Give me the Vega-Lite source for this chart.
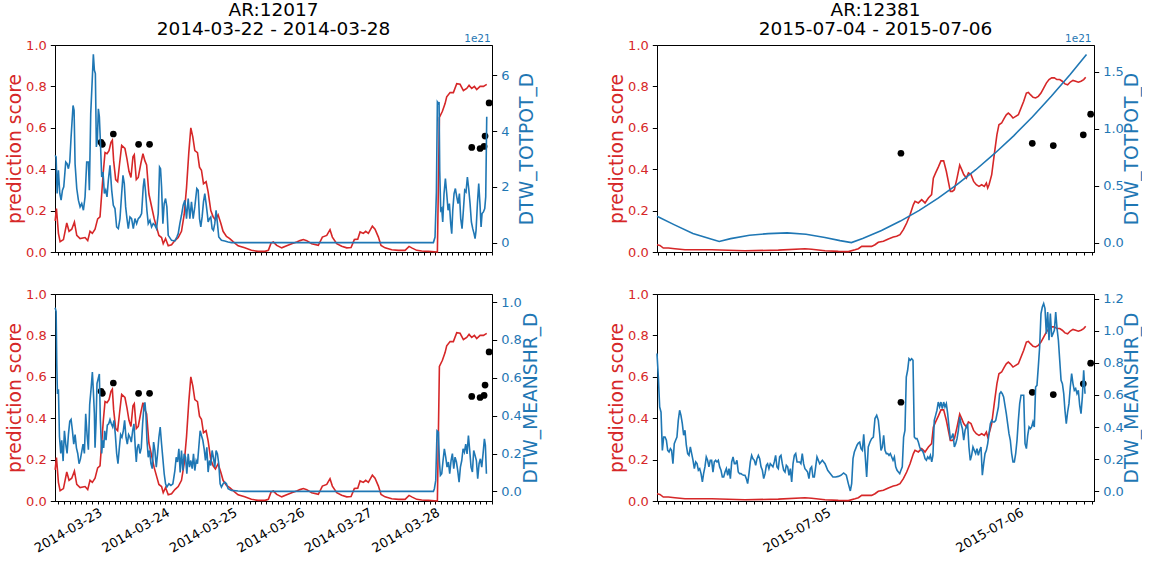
{
"$schema": "https://vega.github.io/schema/vega-lite/v6.json",
"padding": {"left": 5, "top": 0, "right": 0, "bottom": 0},
"config": {
 "font": "DejaVu Sans",
 "view": {"stroke": "black", "strokeWidth": 1},
 "axis": {"grid": false, "domainColor": "black", "tickColor": "black", "labelFont": "DejaVu Sans", "titleFont": "DejaVu Sans", "labelFontSize": 13, "titleFontSize": 18.7, "titleFontWeight": "normal", "domainWidth": 1, "tickWidth": 1},
 "title": {"font": "DejaVu Sans", "fontSize": 18.5, "fontWeight": "normal", "color": "black", "anchor": "middle", "offset": -4, "lineHeight": 19}
},
"datasets": {
 "predL": [
{"t":"2014-03-22T08:52Z","s":0.15},{"t":"2014-03-22T09:20Z","s":0.21},{"t":"2014-03-22T10:02Z","s":0.09},{"t":"2014-03-22T10:38Z","s":0.05},{"t":"2014-03-22T11:49Z","s":0.06},{"t":"2014-03-22T13:00Z","s":0.14},{"t":"2014-03-22T13:49Z","s":0.10},{"t":"2014-03-22T14:46Z","s":0.11},{"t":"2014-03-22T15:43Z","s":0.145},{"t":"2014-03-22T16:33Z","s":0.08},{"t":"2014-03-22T17:44Z","s":0.065},{"t":"2014-03-22T19:30Z","s":0.07},{"t":"2014-03-22T20:27Z","s":0.055},{"t":"2014-03-22T21:16Z","s":0.10},{"t":"2014-03-22T22:06Z","s":0.09},{"t":"2014-03-22T23:03Z","s":0.11},{"t":"2014-03-22T23:59Z","s":0.16},
{"t":"2014-03-23T00:49Z","s":0.17},{"t":"2014-03-23T01:25Z","s":0.28},{"t":"2014-03-23T02:00Z","s":0.39},{"t":"2014-03-23T02:36Z","s":0.48},{"t":"2014-03-23T03:18Z","s":0.475},{"t":"2014-03-23T04:01Z","s":0.49},{"t":"2014-03-23T04:43Z","s":0.53},{"t":"2014-03-23T05:12Z","s":0.54},{"t":"2014-03-23T05:40Z","s":0.44},{"t":"2014-03-23T06:23Z","s":0.35},{"t":"2014-03-23T07:05Z","s":0.34},{"t":"2014-03-23T07:48Z","s":0.43},{"t":"2014-03-23T08:31Z","s":0.515},{"t":"2014-03-23T09:41Z","s":0.50},{"t":"2014-03-23T10:24Z","s":0.45},{"t":"2014-03-23T11:07Z","s":0.39},{"t":"2014-03-23T11:49Z","s":0.36},{"t":"2014-03-23T12:32Z","s":0.46},{"t":"2014-03-23T13:00Z","s":0.47},{"t":"2014-03-23T13:43Z","s":0.35},{"t":"2014-03-23T14:25Z","s":0.36},{"t":"2014-03-23T15:22Z","s":0.43},{"t":"2014-03-23T16:05Z","s":0.475},{"t":"2014-03-23T16:47Z","s":0.44},{"t":"2014-03-23T17:23Z","s":0.42},{"t":"2014-03-23T18:12Z","s":0.28},{"t":"2014-03-23T19:09Z","s":0.22},{"t":"2014-03-23T20:06Z","s":0.16},{"t":"2014-03-23T20:55Z","s":0.12},{"t":"2014-03-23T21:45Z","s":0.08},{"t":"2014-03-23T22:42Z","s":0.07},{"t":"2014-03-23T23:17Z","s":0.04},
{"t":"2014-03-24T00:07Z","s":0.065},{"t":"2014-03-24T01:04Z","s":0.03},{"t":"2014-03-24T02:15Z","s":0.035},{"t":"2014-03-24T03:26Z","s":0.055},{"t":"2014-03-24T04:37Z","s":0.07},{"t":"2014-03-24T05:47Z","s":0.10},{"t":"2014-03-24T06:44Z","s":0.18},{"t":"2014-03-24T07:34Z","s":0.31},{"t":"2014-03-24T08:23Z","s":0.48},{"t":"2014-03-24T09:06Z","s":0.60},{"t":"2014-03-24T09:49Z","s":0.555},{"t":"2014-03-24T10:31Z","s":0.49},{"t":"2014-03-24T11:28Z","s":0.48},{"t":"2014-03-24T12:11Z","s":0.41},{"t":"2014-03-24T12:53Z","s":0.395},{"t":"2014-03-24T13:36Z","s":0.33},{"t":"2014-03-24T14:32Z","s":0.34},{"t":"2014-03-24T15:15Z","s":0.29},{"t":"2014-03-24T16:12Z","s":0.20},{"t":"2014-03-24T17:02Z","s":0.17},{"t":"2014-03-24T17:51Z","s":0.155},{"t":"2014-03-24T18:48Z","s":0.18},{"t":"2014-03-24T19:44Z","s":0.14},{"t":"2014-03-24T20:34Z","s":0.10},{"t":"2014-03-24T21:46Z","s":0.075},{"t":"2014-03-24T22:56Z","s":0.065},
{"t":"2014-03-25T00:07Z","s":0.05},{"t":"2014-03-25T01:54Z","s":0.03},{"t":"2014-03-25T04:16Z","s":0.02},{"t":"2014-03-25T06:38Z","s":0.008},{"t":"2014-03-25T08:59Z","s":0.003},{"t":"2014-03-25T11:29Z","s":0.003},{"t":"2014-03-25T12:40Z","s":0.008},{"t":"2014-03-25T13:37Z","s":0.043},{"t":"2014-03-25T14:26Z","s":0.048},{"t":"2014-03-25T15:38Z","s":0.032},{"t":"2014-03-25T17:25Z","s":0.02},{"t":"2014-03-25T19:11Z","s":0.03},{"t":"2014-03-25T20:58Z","s":0.04},{"t":"2014-03-25T22:44Z","s":0.048},{"t":"2014-03-25T23:55Z","s":0.055},
{"t":"2014-03-26T01:07Z","s":0.06},{"t":"2014-03-26T02:18Z","s":0.055},{"t":"2014-03-26T04:04Z","s":0.04},{"t":"2014-03-26T06:26Z","s":0.032},{"t":"2014-03-26T07:52Z","s":0.072},{"t":"2014-03-26T09:25Z","s":0.08},{"t":"2014-03-26T10:35Z","s":0.108},{"t":"2014-03-26T11:25Z","s":0.072},{"t":"2014-03-26T12:58Z","s":0.04},{"t":"2014-03-26T14:44Z","s":0.028},{"t":"2014-03-26T16:31Z","s":0.02},{"t":"2014-03-26T18:04Z","s":0.022},{"t":"2014-03-26T19:14Z","s":0.06},{"t":"2014-03-26T20:26Z","s":0.062},{"t":"2014-03-26T21:16Z","s":0.097},{"t":"2014-03-26T22:26Z","s":0.09},{"t":"2014-03-26T23:16Z","s":0.10},
{"t":"2014-03-27T00:13Z","s":0.09},{"t":"2014-03-27T01:38Z","s":0.125},{"t":"2014-03-27T02:35Z","s":0.11},{"t":"2014-03-27T03:47Z","s":0.072},{"t":"2014-03-27T04:43Z","s":0.032},{"t":"2014-03-27T06:09Z","s":0.02},{"t":"2014-03-27T08:31Z","s":0.011},{"t":"2014-03-27T10:53Z","s":0.008},{"t":"2014-03-27T13:16Z","s":0.008},{"t":"2014-03-27T14:41Z","s":0.027},{"t":"2014-03-27T15:38Z","s":0.02},{"t":"2014-03-27T17:25Z","s":0.008},{"t":"2014-03-27T19:11Z","s":0.005},{"t":"2014-03-27T21:33Z","s":0.003},
{"t":"2014-03-28T00:45Z","s":0.0},{"t":"2014-03-28T01:28Z","s":0.65},{"t":"2014-03-28T02:32Z","s":0.68},{"t":"2014-03-28T03:29Z","s":0.717},{"t":"2014-03-28T04:04Z","s":0.75},{"t":"2014-03-28T05:16Z","s":0.77},{"t":"2014-03-28T06:26Z","s":0.77},{"t":"2014-03-28T07:38Z","s":0.813},{"t":"2014-03-28T08:49Z","s":0.81},{"t":"2014-03-28T10:00Z","s":0.78},{"t":"2014-03-28T11:11Z","s":0.79},{"t":"2014-03-28T12:01Z","s":0.805},{"t":"2014-03-28T12:58Z","s":0.79},{"t":"2014-03-28T13:55Z","s":0.80},{"t":"2014-03-28T14:44Z","s":0.785},{"t":"2014-03-28T15:56Z","s":0.80},{"t":"2014-03-28T17:07Z","s":0.80},{"t":"2014-03-28T18:18Z","s":0.81}
 ],
 "ptsL": [
{"t":"2014-03-23T01:11Z","s":0.53},{"t":"2014-03-23T01:39Z","s":0.52},{"t":"2014-03-23T05:33Z","s":0.57},{"t":"2014-03-23T14:32Z","s":0.52},{"t":"2014-03-23T18:26Z","s":0.52},{"t":"2014-03-28T12:58Z","s":0.505},{"t":"2014-03-28T15:56Z","s":0.50},{"t":"2014-03-28T17:21Z","s":0.51},{"t":"2014-03-28T17:42Z","s":0.56},{"t":"2014-03-28T19:08Z","s":0.72}
 ],
 "totpotL": [
{"t":"2014-03-22T08:52Z","v":3.13},{"t":"2014-03-22T09:13Z","v":3.07},{"t":"2014-03-22T09:34Z","v":1.76},{"t":"2014-03-22T10:02Z","v":2.59},{"t":"2014-03-22T10:31Z","v":1.76},{"t":"2014-03-22T10:59Z","v":1.52},{"t":"2014-03-22T11:28Z","v":1.88},{"t":"2014-03-22T11:56Z","v":2.0},{"t":"2014-03-22T12:38Z","v":2.89},{"t":"2014-03-22T13:07Z","v":2.83},{"t":"2014-03-22T13:35Z","v":2.65},{"t":"2014-03-22T14:04Z","v":2.89},{"t":"2014-03-22T14:32Z","v":3.79},{"t":"2014-03-22T15:14Z","v":4.92},{"t":"2014-03-22T15:36Z","v":4.74},{"t":"2014-03-22T15:57Z","v":2.83},{"t":"2014-03-22T16:33Z","v":1.94},{"t":"2014-03-22T17:08Z","v":1.52},{"t":"2014-03-22T17:44Z","v":1.28},{"t":"2014-03-22T18:19Z","v":1.40},{"t":"2014-03-22T18:55Z","v":1.16},{"t":"2014-03-22T19:30Z","v":1.64},{"t":"2014-03-22T20:05Z","v":2.89},{"t":"2014-03-22T20:41Z","v":2.89},{"t":"2014-03-22T21:02Z","v":1.88},{"t":"2014-03-22T21:31Z","v":4.62},{"t":"2014-03-22T22:06Z","v":5.94},{"t":"2014-03-22T22:27Z","v":6.75},{"t":"2014-03-22T22:49Z","v":6.18},{"t":"2014-03-22T23:10Z","v":6.06},{"t":"2014-03-22T23:31Z","v":3.43},{"t":"2014-03-22T23:52Z","v":3.67},
{"t":"2014-03-23T00:14Z","v":4.80},{"t":"2014-03-23T00:35Z","v":4.51},{"t":"2014-03-23T00:56Z","v":3.67},{"t":"2014-03-23T01:25Z","v":2.35},{"t":"2014-03-23T01:53Z","v":2.53},{"t":"2014-03-23T02:22Z","v":1.76},{"t":"2014-03-23T02:50Z","v":1.88},{"t":"2014-03-23T03:18Z","v":1.64},{"t":"2014-03-23T03:47Z","v":2.24},{"t":"2014-03-23T04:22Z","v":2.77},{"t":"2014-03-23T04:58Z","v":1.88},{"t":"2014-03-23T05:33Z","v":1.34},{"t":"2014-03-23T06:08Z","v":1.22},{"t":"2014-03-23T06:44Z","v":0.56},{"t":"2014-03-23T07:20Z","v":0.50},{"t":"2014-03-23T07:55Z","v":0.86},{"t":"2014-03-23T08:31Z","v":1.76},{"t":"2014-03-23T08:59Z","v":2.41},{"t":"2014-03-23T09:27Z","v":2.12},{"t":"2014-03-23T09:56Z","v":1.28},{"t":"2014-03-23T10:24Z","v":0.86},{"t":"2014-03-23T10:52Z","v":0.50},{"t":"2014-03-23T11:28Z","v":0.92},{"t":"2014-03-23T12:03Z","v":0.86},{"t":"2014-03-23T12:39Z","v":0.50},{"t":"2014-03-23T13:14Z","v":0.86},{"t":"2014-03-23T13:50Z","v":0.68},{"t":"2014-03-23T14:25Z","v":0.86},{"t":"2014-03-23T15:01Z","v":0.92},{"t":"2014-03-23T15:36Z","v":1.04},{"t":"2014-03-23T16:11Z","v":2.0},{"t":"2014-03-23T16:33Z","v":2.3},{"t":"2014-03-23T17:01Z","v":1.82},{"t":"2014-03-23T17:29Z","v":1.16},{"t":"2014-03-23T17:58Z","v":0.68},{"t":"2014-03-23T18:34Z","v":0.80},{"t":"2014-03-23T19:09Z","v":0.56},{"t":"2014-03-23T19:44Z","v":0.68},{"t":"2014-03-23T20:20Z","v":0.62},{"t":"2014-03-23T20:55Z","v":0.50},{"t":"2014-03-23T21:31Z","v":1.04},{"t":"2014-03-23T21:59Z","v":2.71},{"t":"2014-03-23T22:20Z","v":2.65},{"t":"2014-03-23T22:42Z","v":2.0},{"t":"2014-03-23T23:10Z","v":0.68},{"t":"2014-03-23T23:38Z","v":1.40},
{"t":"2014-03-24T00:07Z","v":1.58},{"t":"2014-03-24T00:35Z","v":1.28},{"t":"2014-03-24T01:04Z","v":0.26},{"t":"2014-03-24T02:15Z","v":0.08},{"t":"2014-03-24T03:26Z","v":0.06},{"t":"2014-03-24T04:08Z","v":0.20},{"t":"2014-03-24T04:37Z","v":0.32},{"t":"2014-03-24T05:12Z","v":0.68},{"t":"2014-03-24T05:47Z","v":0.98},{"t":"2014-03-24T06:23Z","v":1.34},{"t":"2014-03-24T06:59Z","v":1.52},{"t":"2014-03-24T07:34Z","v":0.86},{"t":"2014-03-24T08:10Z","v":1.58},{"t":"2014-03-24T08:45Z","v":0.86},{"t":"2014-03-24T09:20Z","v":1.46},{"t":"2014-03-24T09:56Z","v":0.86},{"t":"2014-03-24T10:31Z","v":1.28},{"t":"2014-03-24T11:14Z","v":1.94},{"t":"2014-03-24T11:43Z","v":1.88},{"t":"2014-03-24T12:11Z","v":0.86},{"t":"2014-03-24T12:39Z","v":0.56},{"t":"2014-03-24T13:07Z","v":0.92},{"t":"2014-03-24T13:36Z","v":1.46},{"t":"2014-03-24T14:04Z","v":1.76},{"t":"2014-03-24T14:32Z","v":1.40},{"t":"2014-03-24T15:01Z","v":0.98},{"t":"2014-03-24T15:15Z","v":0.74},{"t":"2014-03-24T15:44Z","v":0.86},{"t":"2014-03-24T16:12Z","v":0.92},{"t":"2014-03-24T16:40Z","v":0.50},{"t":"2014-03-24T17:08Z","v":0.44},{"t":"2014-03-24T17:37Z","v":0.68},{"t":"2014-03-24T18:05Z","v":1.16},{"t":"2014-03-24T18:34Z","v":0.68},{"t":"2014-03-24T19:02Z","v":0.20},{"t":"2014-03-24T19:59Z","v":0.08},{"t":"2014-03-24T21:10Z","v":0.06},{"t":"2014-03-24T22:21Z","v":0.02},{"t":"2014-03-24T23:32Z","v":0.0},
{"t":"2014-03-27T23:20Z","v":0.0},{"t":"2014-03-27T23:55Z","v":0.20},{"t":"2014-03-28T00:24Z","v":1.80},{"t":"2014-03-28T00:45Z","v":5.04},{"t":"2014-03-28T01:07Z","v":4.98},{"t":"2014-03-28T01:21Z","v":5.04},{"t":"2014-03-28T01:35Z","v":2.59},{"t":"2014-03-28T01:56Z","v":1.16},{"t":"2014-03-28T02:18Z","v":1.22},{"t":"2014-03-28T02:39Z","v":0.74},{"t":"2014-03-28T03:07Z","v":1.76},{"t":"2014-03-28T03:36Z","v":2.3},{"t":"2014-03-28T04:04Z","v":1.76},{"t":"2014-03-28T04:33Z","v":1.16},{"t":"2014-03-28T05:01Z","v":1.40},{"t":"2014-03-28T05:29Z","v":0.68},{"t":"2014-03-28T05:51Z","v":0.32},{"t":"2014-03-28T06:13Z","v":1.16},{"t":"2014-03-28T06:41Z","v":1.76},{"t":"2014-03-28T07:09Z","v":1.94},{"t":"2014-03-28T07:38Z","v":1.64},{"t":"2014-03-28T08:06Z","v":1.40},{"t":"2014-03-28T08:35Z","v":1.76},{"t":"2014-03-28T09:03Z","v":0.86},{"t":"2014-03-28T09:31Z","v":0.50},{"t":"2014-03-28T10:00Z","v":1.16},{"t":"2014-03-28T10:28Z","v":1.88},{"t":"2014-03-28T10:56Z","v":1.82},{"t":"2014-03-28T11:25Z","v":2.35},{"t":"2014-03-28T11:53Z","v":1.94},{"t":"2014-03-28T12:22Z","v":1.40},{"t":"2014-03-28T12:50Z","v":0.74},{"t":"2014-03-28T13:19Z","v":0.50},{"t":"2014-03-28T13:47Z","v":0.32},{"t":"2014-03-28T14:09Z","v":0.14},{"t":"2014-03-28T14:30Z","v":0.44},{"t":"2014-03-28T14:59Z","v":1.40},{"t":"2014-03-28T15:27Z","v":2.12},{"t":"2014-03-28T15:55Z","v":1.34},{"t":"2014-03-28T16:17Z","v":0.56},{"t":"2014-03-28T16:38Z","v":1.04},{"t":"2014-03-28T17:07Z","v":1.10},{"t":"2014-03-28T17:35Z","v":1.22},{"t":"2014-03-28T17:56Z","v":1.64},{"t":"2014-03-28T18:18Z","v":4.51}
 ],
 "meanshrL": [
{"t":"2014-03-22T08:52Z","v":0.97},{"t":"2014-03-22T09:13Z","v":0.95},{"t":"2014-03-22T09:27Z","v":0.67},{"t":"2014-03-22T09:41Z","v":0.515},{"t":"2014-03-22T10:02Z","v":0.54},{"t":"2014-03-22T10:24Z","v":0.29},{"t":"2014-03-22T10:52Z","v":0.20},{"t":"2014-03-22T11:13Z","v":0.27},{"t":"2014-03-22T11:42Z","v":0.16},{"t":"2014-03-22T12:10Z","v":0.32},{"t":"2014-03-22T12:38Z","v":0.25},{"t":"2014-03-22T13:07Z","v":0.20},{"t":"2014-03-22T13:35Z","v":0.30},{"t":"2014-03-22T14:04Z","v":0.37},{"t":"2014-03-22T14:32Z","v":0.38},{"t":"2014-03-22T15:01Z","v":0.32},{"t":"2014-03-22T15:29Z","v":0.25},{"t":"2014-03-22T15:57Z","v":0.30},{"t":"2014-03-22T16:26Z","v":0.23},{"t":"2014-03-22T16:54Z","v":0.20},{"t":"2014-03-22T17:22Z","v":0.146},{"t":"2014-03-22T17:51Z","v":0.17},{"t":"2014-03-22T18:19Z","v":0.21},{"t":"2014-03-22T18:47Z","v":0.25},{"t":"2014-03-22T19:16Z","v":0.20},{"t":"2014-03-22T19:44Z","v":0.41},{"t":"2014-03-22T20:13Z","v":0.30},{"t":"2014-03-22T20:41Z","v":0.22},{"t":"2014-03-22T21:09Z","v":0.46},{"t":"2014-03-22T21:38Z","v":0.54},{"t":"2014-03-22T22:06Z","v":0.63},{"t":"2014-03-22T22:27Z","v":0.53},{"t":"2014-03-22T22:49Z","v":0.41},{"t":"2014-03-22T23:03Z","v":0.23},{"t":"2014-03-22T23:24Z","v":0.36},{"t":"2014-03-22T23:45Z","v":0.57},
{"t":"2014-03-23T00:14Z","v":0.60},{"t":"2014-03-23T00:35Z","v":0.62},{"t":"2014-03-23T00:56Z","v":0.38},{"t":"2014-03-23T01:25Z","v":0.20},{"t":"2014-03-23T01:46Z","v":0.27},{"t":"2014-03-23T02:07Z","v":0.23},{"t":"2014-03-23T02:29Z","v":0.32},{"t":"2014-03-23T02:57Z","v":0.27},{"t":"2014-03-23T03:25Z","v":0.35},{"t":"2014-03-23T03:54Z","v":0.357},{"t":"2014-03-23T04:22Z","v":0.38},{"t":"2014-03-23T04:50Z","v":0.357},{"t":"2014-03-23T05:19Z","v":0.34},{"t":"2014-03-23T05:47Z","v":0.375},{"t":"2014-03-23T06:16Z","v":0.30},{"t":"2014-03-23T06:44Z","v":0.20},{"t":"2014-03-23T07:12Z","v":0.146},{"t":"2014-03-23T07:41Z","v":0.23},{"t":"2014-03-23T08:09Z","v":0.30},{"t":"2014-03-23T08:37Z","v":0.286},{"t":"2014-03-23T09:06Z","v":0.32},{"t":"2014-03-23T09:34Z","v":0.375},{"t":"2014-03-23T10:03Z","v":0.286},{"t":"2014-03-23T10:31Z","v":0.25},{"t":"2014-03-23T10:59Z","v":0.30},{"t":"2014-03-23T11:28Z","v":0.286},{"t":"2014-03-23T11:56Z","v":0.26},{"t":"2014-03-23T12:25Z","v":0.32},{"t":"2014-03-23T12:53Z","v":0.357},{"t":"2014-03-23T13:21Z","v":0.23},{"t":"2014-03-23T13:43Z","v":0.155},{"t":"2014-03-23T14:04Z","v":0.23},{"t":"2014-03-23T14:32Z","v":0.25},{"t":"2014-03-23T15:01Z","v":0.20},{"t":"2014-03-23T15:29Z","v":0.23},{"t":"2014-03-23T15:58Z","v":0.357},{"t":"2014-03-23T16:26Z","v":0.45},{"t":"2014-03-23T16:47Z","v":0.47},{"t":"2014-03-23T17:08Z","v":0.41},{"t":"2014-03-23T17:30Z","v":0.27},{"t":"2014-03-23T17:58Z","v":0.18},{"t":"2014-03-23T18:26Z","v":0.216},{"t":"2014-03-23T18:55Z","v":0.146},{"t":"2014-03-23T19:23Z","v":0.12},{"t":"2014-03-23T19:52Z","v":0.26},{"t":"2014-03-23T20:20Z","v":0.216},{"t":"2014-03-23T20:49Z","v":0.128},{"t":"2014-03-23T21:17Z","v":0.20},{"t":"2014-03-23T21:45Z","v":0.286},{"t":"2014-03-23T22:13Z","v":0.34},{"t":"2014-03-23T22:42Z","v":0.25},{"t":"2014-03-23T23:10Z","v":0.172},{"t":"2014-03-23T23:38Z","v":0.093},
{"t":"2014-03-24T00:07Z","v":0.04},{"t":"2014-03-24T00:35Z","v":0.023},{"t":"2014-03-24T01:18Z","v":0.04},{"t":"2014-03-24T02:01Z","v":0.031},{"t":"2014-03-24T02:43Z","v":0.04},{"t":"2014-03-24T03:26Z","v":0.11},{"t":"2014-03-24T03:54Z","v":0.18},{"t":"2014-03-24T04:22Z","v":0.155},{"t":"2014-03-24T04:51Z","v":0.225},{"t":"2014-03-24T05:19Z","v":0.10},{"t":"2014-03-24T05:47Z","v":0.216},{"t":"2014-03-24T06:16Z","v":0.11},{"t":"2014-03-24T06:44Z","v":0.198},{"t":"2014-03-24T07:13Z","v":0.18},{"t":"2014-03-24T07:41Z","v":0.093},{"t":"2014-03-24T08:10Z","v":0.198},{"t":"2014-03-24T08:38Z","v":0.128},{"t":"2014-03-24T09:06Z","v":0.163},{"t":"2014-03-24T09:35Z","v":0.12},{"t":"2014-03-24T10:03Z","v":0.198},{"t":"2014-03-24T10:31Z","v":0.11},{"t":"2014-03-24T11:00Z","v":0.163},{"t":"2014-03-24T11:28Z","v":0.146},{"t":"2014-03-24T11:56Z","v":0.233},{"t":"2014-03-24T12:25Z","v":0.32},{"t":"2014-03-24T12:53Z","v":0.295},{"t":"2014-03-24T13:22Z","v":0.27},{"t":"2014-03-24T13:50Z","v":0.225},{"t":"2014-03-24T14:18Z","v":0.163},{"t":"2014-03-24T14:47Z","v":0.233},{"t":"2014-03-24T15:15Z","v":0.102},{"t":"2014-03-24T15:44Z","v":0.163},{"t":"2014-03-24T16:12Z","v":0.137},{"t":"2014-03-24T16:40Z","v":0.216},{"t":"2014-03-24T17:08Z","v":0.18},{"t":"2014-03-24T17:37Z","v":0.128},{"t":"2014-03-24T18:05Z","v":0.216},{"t":"2014-03-24T18:34Z","v":0.198},{"t":"2014-03-24T19:02Z","v":0.146},{"t":"2014-03-24T19:31Z","v":0.04},{"t":"2014-03-24T19:59Z","v":0.023},{"t":"2014-03-24T20:34Z","v":0.04},{"t":"2014-03-24T21:10Z","v":0.049},{"t":"2014-03-24T21:46Z","v":0.04},{"t":"2014-03-24T22:21Z","v":0.014},{"t":"2014-03-24T23:32Z","v":0.005},{"t":"2014-03-25T01:54Z","v":0.002},{"t":"2014-03-25T04:16Z","v":0.0},
{"t":"2014-03-27T23:20Z","v":0.0},{"t":"2014-03-27T23:41Z","v":0.014},{"t":"2014-03-28T00:10Z","v":0.058},{"t":"2014-03-28T00:38Z","v":0.32},{"t":"2014-03-28T01:07Z","v":0.313},{"t":"2014-03-28T01:28Z","v":0.16},{"t":"2014-03-28T01:49Z","v":0.084},{"t":"2014-03-28T02:18Z","v":0.093},{"t":"2014-03-28T02:46Z","v":0.163},{"t":"2014-03-28T03:14Z","v":0.225},{"t":"2014-03-28T03:43Z","v":0.181},{"t":"2014-03-28T04:11Z","v":0.128},{"t":"2014-03-28T04:40Z","v":0.155},{"t":"2014-03-28T05:08Z","v":0.093},{"t":"2014-03-28T05:37Z","v":0.163},{"t":"2014-03-28T06:05Z","v":0.199},{"t":"2014-03-28T06:34Z","v":0.12},{"t":"2014-03-28T07:02Z","v":0.181},{"t":"2014-03-28T07:31Z","v":0.155},{"t":"2014-03-28T07:59Z","v":0.11},{"t":"2014-03-28T08:28Z","v":0.049},{"t":"2014-03-28T08:56Z","v":0.128},{"t":"2014-03-28T09:25Z","v":0.163},{"t":"2014-03-28T09:53Z","v":0.225},{"t":"2014-03-28T10:21Z","v":0.207},{"t":"2014-03-28T10:50Z","v":0.25},{"t":"2014-03-28T11:18Z","v":0.198},{"t":"2014-03-28T11:47Z","v":0.295},{"t":"2014-03-28T12:15Z","v":0.216},{"t":"2014-03-28T12:43Z","v":0.128},{"t":"2014-03-28T13:12Z","v":0.102},{"t":"2014-03-28T13:40Z","v":0.216},{"t":"2014-03-28T14:09Z","v":0.19},{"t":"2014-03-28T14:37Z","v":0.163},{"t":"2014-03-28T15:05Z","v":0.067},{"t":"2014-03-28T15:34Z","v":0.146},{"t":"2014-03-28T16:02Z","v":0.172},{"t":"2014-03-28T16:31Z","v":0.128},{"t":"2014-03-28T16:59Z","v":0.198},{"t":"2014-03-28T17:28Z","v":0.278},{"t":"2014-03-28T17:49Z","v":0.243},{"t":"2014-03-28T18:11Z","v":0.093}
 ],
 "predR": [
{"t":"2015-07-04T02:54Z","s":0.035},{"t":"2015-07-04T03:16Z","s":0.032},{"t":"2015-07-04T03:41Z","s":0.019},{"t":"2015-07-04T04:19Z","s":0.019},{"t":"2015-07-04T05:08Z","s":0.016},{"t":"2015-07-04T06:23Z","s":0.011},{"t":"2015-07-04T09:42Z","s":0.011},{"t":"2015-07-04T13:51Z","s":0.006},{"t":"2015-07-04T18:00Z","s":0.009},{"t":"2015-07-04T21:19Z","s":0.016},{"t":"2015-07-04T22:09Z","s":0.013},{"t":"2015-07-04T23:49Z","s":0.006},
{"t":"2015-07-05T01:28Z","s":0.003},{"t":"2015-07-05T02:43Z","s":0.002},{"t":"2015-07-05T03:33Z","s":0.011},{"t":"2015-07-05T03:58Z","s":0.016},{"t":"2015-07-05T04:23Z","s":0.027},{"t":"2015-07-05T05:37Z","s":0.027},{"t":"2015-07-05T06:02Z","s":0.035},{"t":"2015-07-05T06:27Z","s":0.047},{"t":"2015-07-05T07:05Z","s":0.052},{"t":"2015-07-05T07:42Z","s":0.063},{"t":"2015-07-05T08:19Z","s":0.072},{"t":"2015-07-05T08:44Z","s":0.076},{"t":"2015-07-05T09:09Z","s":0.084},{"t":"2015-07-05T09:34Z","s":0.108},{"t":"2015-07-05T09:59Z","s":0.14},{"t":"2015-07-05T10:24Z","s":0.18},{"t":"2015-07-05T10:49Z","s":0.229},{"t":"2015-07-05T11:01Z","s":0.245},{"t":"2015-07-05T11:26Z","s":0.237},{"t":"2015-07-05T11:51Z","s":0.253},{"t":"2015-07-05T12:16Z","s":0.237},{"t":"2015-07-05T12:41Z","s":0.261},{"t":"2015-07-05T13:05Z","s":0.277},{"t":"2015-07-05T13:18Z","s":0.357},{"t":"2015-07-05T13:35Z","s":0.382},{"t":"2015-07-05T13:55Z","s":0.41},{"t":"2015-07-05T14:15Z","s":0.44},{"t":"2015-07-05T14:35Z","s":0.44},{"t":"2015-07-05T14:55Z","s":0.39},{"t":"2015-07-05T15:10Z","s":0.341},{"t":"2015-07-05T15:25Z","s":0.293},{"t":"2015-07-05T15:40Z","s":0.293},{"t":"2015-07-05T15:55Z","s":0.301},{"t":"2015-07-05T16:15Z","s":0.357},{"t":"2015-07-05T16:35Z","s":0.42},{"t":"2015-07-05T16:50Z","s":0.398},{"t":"2015-07-05T17:05Z","s":0.374},{"t":"2015-07-05T17:25Z","s":0.357},{"t":"2015-07-05T17:40Z","s":0.382},{"t":"2015-07-05T17:59Z","s":0.374},{"t":"2015-07-05T18:19Z","s":0.341},{"t":"2015-07-05T18:39Z","s":0.325},{"t":"2015-07-05T18:59Z","s":0.317},{"t":"2015-07-05T19:19Z","s":0.325},{"t":"2015-07-05T19:39Z","s":0.317},{"t":"2015-07-05T19:54Z","s":0.333},{"t":"2015-07-05T20:04Z","s":0.309},{"t":"2015-07-05T20:14Z","s":0.325},{"t":"2015-07-05T20:34Z","s":0.374},{"t":"2015-07-05T20:53Z","s":0.47},{"t":"2015-07-05T21:13Z","s":0.567},{"t":"2015-07-05T21:28Z","s":0.615},{"t":"2015-07-05T21:48Z","s":0.623},{"t":"2015-07-05T22:08Z","s":0.647},{"t":"2015-07-05T22:23Z","s":0.663},{"t":"2015-07-05T22:38Z","s":0.671},{"t":"2015-07-05T22:53Z","s":0.663},{"t":"2015-07-05T23:13Z","s":0.647},{"t":"2015-07-05T23:33Z","s":0.655},{"t":"2015-07-05T23:53Z","s":0.663},
{"t":"2015-07-06T00:13Z","s":0.696},{"t":"2015-07-06T00:33Z","s":0.728},{"t":"2015-07-06T00:53Z","s":0.768},{"t":"2015-07-06T01:08Z","s":0.771},{"t":"2015-07-06T01:23Z","s":0.760},{"t":"2015-07-06T01:43Z","s":0.747},{"t":"2015-07-06T02:02Z","s":0.744},{"t":"2015-07-06T02:22Z","s":0.752},{"t":"2015-07-06T02:42Z","s":0.768},{"t":"2015-07-06T03:02Z","s":0.792},{"t":"2015-07-06T03:22Z","s":0.816},{"t":"2015-07-06T03:42Z","s":0.833},{"t":"2015-07-06T04:02Z","s":0.841},{"t":"2015-07-06T04:22Z","s":0.841},{"t":"2015-07-06T04:41Z","s":0.833},{"t":"2015-07-06T05:02Z","s":0.833},{"t":"2015-07-06T05:21Z","s":0.825},{"t":"2015-07-06T05:41Z","s":0.812},{"t":"2015-07-06T06:01Z","s":0.808},{"t":"2015-07-06T06:21Z","s":0.821},{"t":"2015-07-06T06:41Z","s":0.829},{"t":"2015-07-06T07:01Z","s":0.825},{"t":"2015-07-06T07:21Z","s":0.820},{"t":"2015-07-06T07:41Z","s":0.825},{"t":"2015-07-06T08:01Z","s":0.833},{"t":"2015-07-06T08:16Z","s":0.844}
 ],
 "ptsR": [
{"t":"2015-07-05T09:16Z","s":0.477},{"t":"2015-07-06T01:37Z","s":0.525},{"t":"2015-07-06T04:14Z","s":0.514},{"t":"2015-07-06T07:58Z","s":0.566},{"t":"2015-07-06T08:53Z","s":0.666}
 ],
 "totpotR": [
{"t":"2015-07-04T02:54Z","v":0.231},{"t":"2015-07-04T05:01Z","v":0.158},{"t":"2015-07-04T07:22Z","v":0.079},{"t":"2015-07-04T09:43Z","v":0.029},{"t":"2015-07-04T10:39Z","v":0.01},{"t":"2015-07-04T12:04Z","v":0.035},{"t":"2015-07-04T14:25Z","v":0.064},{"t":"2015-07-04T16:45Z","v":0.079},{"t":"2015-07-04T19:06Z","v":0.085},{"t":"2015-07-04T21:27Z","v":0.073},{"t":"2015-07-04T23:48Z","v":0.044},{"t":"2015-07-05T01:41Z","v":0.017},{"t":"2015-07-05T03:06Z","v":0.0},{"t":"2015-07-05T04:30Z","v":0.036},{"t":"2015-07-05T06:51Z","v":0.106},{"t":"2015-07-05T09:12Z","v":0.189},{"t":"2015-07-05T11:33Z","v":0.283},{"t":"2015-07-05T13:54Z","v":0.39},{"t":"2015-07-05T16:14Z","v":0.509},{"t":"2015-07-05T18:35Z","v":0.64},{"t":"2015-07-05T20:56Z","v":0.783},{"t":"2015-07-05T23:18Z","v":0.938},{"t":"2015-07-06T01:39Z","v":1.106},{"t":"2015-07-06T03:59Z","v":1.285},{"t":"2015-07-06T06:20Z","v":1.477},{"t":"2015-07-06T08:22Z","v":1.652}
 ],
 "meanshrR": [
{"t":"2015-07-04T02:54Z","v":0.858},{"t":"2015-07-04T03:04Z","v":0.712},{"t":"2015-07-04T03:14Z","v":0.525},{"t":"2015-07-04T03:24Z","v":0.494},{"t":"2015-07-04T03:34Z","v":0.255},{"t":"2015-07-04T03:44Z","v":0.338},{"t":"2015-07-04T03:54Z","v":0.338},{"t":"2015-07-04T04:04Z","v":0.318},{"t":"2015-07-04T04:14Z","v":0.255},{"t":"2015-07-04T04:24Z","v":0.245},{"t":"2015-07-04T04:34Z","v":0.266},{"t":"2015-07-04T04:43Z","v":0.255},{"t":"2015-07-04T04:53Z","v":0.172},{"t":"2015-07-04T05:03Z","v":0.297},{"t":"2015-07-04T05:13Z","v":0.318},{"t":"2015-07-04T05:23Z","v":0.338},{"t":"2015-07-04T05:33Z","v":0.442},{"t":"2015-07-04T05:43Z","v":0.505},{"t":"2015-07-04T05:53Z","v":0.473},{"t":"2015-07-04T06:03Z","v":0.421},{"t":"2015-07-04T06:13Z","v":0.349},{"t":"2015-07-04T06:23Z","v":0.380},{"t":"2015-07-04T06:33Z","v":0.287},{"t":"2015-07-04T06:43Z","v":0.235},{"t":"2015-07-04T06:53Z","v":0.224},{"t":"2015-07-04T07:03Z","v":0.276},{"t":"2015-07-04T07:13Z","v":0.235},{"t":"2015-07-04T07:23Z","v":0.193},{"t":"2015-07-04T07:33Z","v":0.141},{"t":"2015-07-04T07:43Z","v":0.183},{"t":"2015-07-04T07:53Z","v":0.172},{"t":"2015-07-04T08:03Z","v":0.131},{"t":"2015-07-04T08:13Z","v":0.141},{"t":"2015-07-04T08:23Z","v":0.110},{"t":"2015-07-04T08:33Z","v":0.058},{"t":"2015-07-04T08:42Z","v":0.110},{"t":"2015-07-04T08:52Z","v":0.152},{"t":"2015-07-04T09:02Z","v":0.214},{"t":"2015-07-04T09:12Z","v":0.193},{"t":"2015-07-04T09:22Z","v":0.152},{"t":"2015-07-04T09:32Z","v":0.193},{"t":"2015-07-04T09:42Z","v":0.193},{"t":"2015-07-04T09:52Z","v":0.120},{"t":"2015-07-04T10:02Z","v":0.183},{"t":"2015-07-04T10:12Z","v":0.193},{"t":"2015-07-04T10:22Z","v":0.183},{"t":"2015-07-04T10:32Z","v":0.193},{"t":"2015-07-04T10:42Z","v":0.152},{"t":"2015-07-04T10:52Z","v":0.131},{"t":"2015-07-04T11:02Z","v":0.089},{"t":"2015-07-04T11:12Z","v":0.089},{"t":"2015-07-04T11:22Z","v":0.120},{"t":"2015-07-04T11:32Z","v":0.141},{"t":"2015-07-04T11:42Z","v":0.100},{"t":"2015-07-04T11:52Z","v":0.141},{"t":"2015-07-04T12:02Z","v":0.079},{"t":"2015-07-04T12:12Z","v":0.183},{"t":"2015-07-04T12:22Z","v":0.214},{"t":"2015-07-04T12:32Z","v":0.172},{"t":"2015-07-04T12:41Z","v":0.172},{"t":"2015-07-04T12:51Z","v":0.193},{"t":"2015-07-04T13:01Z","v":0.120},{"t":"2015-07-04T13:11Z","v":0.110},{"t":"2015-07-04T13:21Z","v":0.110},{"t":"2015-07-04T13:31Z","v":0.104},{"t":"2015-07-04T13:41Z","v":0.100},{"t":"2015-07-04T13:51Z","v":0.100},{"t":"2015-07-04T14:01Z","v":0.079},{"t":"2015-07-04T14:11Z","v":0.048},{"t":"2015-07-04T14:21Z","v":0.110},{"t":"2015-07-04T14:31Z","v":0.183},{"t":"2015-07-04T14:41Z","v":0.224},{"t":"2015-07-04T14:51Z","v":0.203},{"t":"2015-07-04T15:01Z","v":0.193},{"t":"2015-07-04T15:11Z","v":0.162},{"t":"2015-07-04T15:21Z","v":0.203},{"t":"2015-07-04T15:31Z","v":0.224},{"t":"2015-07-04T15:41Z","v":0.203},{"t":"2015-07-04T15:51Z","v":0.152},{"t":"2015-07-04T16:01Z","v":0.131},{"t":"2015-07-04T16:11Z","v":0.079},{"t":"2015-07-04T16:21Z","v":0.110},{"t":"2015-07-04T16:31Z","v":0.162},{"t":"2015-07-04T16:40Z","v":0.172},{"t":"2015-07-04T16:50Z","v":0.141},{"t":"2015-07-04T17:00Z","v":0.172},{"t":"2015-07-04T17:10Z","v":0.162},{"t":"2015-07-04T17:20Z","v":0.152},{"t":"2015-07-04T17:30Z","v":0.183},{"t":"2015-07-04T17:40Z","v":0.224},{"t":"2015-07-04T17:50Z","v":0.152},{"t":"2015-07-04T18:00Z","v":0.141},{"t":"2015-07-04T18:10Z","v":0.214},{"t":"2015-07-04T18:20Z","v":0.224},{"t":"2015-07-04T18:30Z","v":0.172},{"t":"2015-07-04T18:40Z","v":0.131},{"t":"2015-07-04T18:50Z","v":0.120},{"t":"2015-07-04T19:00Z","v":0.162},{"t":"2015-07-04T19:10Z","v":0.152},{"t":"2015-07-04T19:20Z","v":0.100},{"t":"2015-07-04T19:30Z","v":0.141},{"t":"2015-07-04T19:40Z","v":0.058},{"t":"2015-07-04T19:50Z","v":0.172},{"t":"2015-07-04T20:00Z","v":0.224},{"t":"2015-07-04T20:10Z","v":0.235},{"t":"2015-07-04T20:20Z","v":0.183},{"t":"2015-07-04T20:30Z","v":0.183},{"t":"2015-07-04T20:40Z","v":0.183},{"t":"2015-07-04T20:49Z","v":0.172},{"t":"2015-07-04T20:59Z","v":0.235},{"t":"2015-07-04T21:09Z","v":0.172},{"t":"2015-07-04T21:19Z","v":0.141},{"t":"2015-07-04T21:29Z","v":0.131},{"t":"2015-07-04T21:39Z","v":0.120},{"t":"2015-07-04T21:49Z","v":0.079},{"t":"2015-07-04T21:59Z","v":0.141},{"t":"2015-07-04T22:09Z","v":0.152},{"t":"2015-07-04T22:19Z","v":0.089},{"t":"2015-07-04T22:29Z","v":0.089},{"t":"2015-07-04T22:39Z","v":0.152},{"t":"2015-07-04T22:49Z","v":0.214},{"t":"2015-07-04T22:59Z","v":0.193},{"t":"2015-07-04T23:09Z","v":0.172},{"t":"2015-07-04T23:19Z","v":0.183},{"t":"2015-07-04T23:29Z","v":0.193},{"t":"2015-07-04T23:39Z","v":0.183},{"t":"2015-07-04T23:49Z","v":0.172},
{"t":"2015-07-05T00:09Z","v":0.131},{"t":"2015-07-05T00:29Z","v":0.110},{"t":"2015-07-05T00:48Z","v":0.089},{"t":"2015-07-05T01:08Z","v":0.089},{"t":"2015-07-05T01:28Z","v":0.093},{"t":"2015-07-05T01:48Z","v":0.100},{"t":"2015-07-05T02:08Z","v":0.114},{"t":"2015-07-05T02:28Z","v":0.100},{"t":"2015-07-05T02:43Z","v":0.048},{"t":"2015-07-05T02:58Z","v":0.002},{"t":"2015-07-05T03:08Z","v":0.048},{"t":"2015-07-05T03:18Z","v":0.203},{"t":"2015-07-05T03:28Z","v":0.245},{"t":"2015-07-05T03:38Z","v":0.266},{"t":"2015-07-05T03:48Z","v":0.287},{"t":"2015-07-05T03:58Z","v":0.301},{"t":"2015-07-05T04:08Z","v":0.307},{"t":"2015-07-05T04:18Z","v":0.266},{"t":"2015-07-05T04:28Z","v":0.255},{"t":"2015-07-05T04:38Z","v":0.355},{"t":"2015-07-05T04:48Z","v":0.235},{"t":"2015-07-05T05:00Z","v":0.089},{"t":"2015-07-05T05:12Z","v":0.276},{"t":"2015-07-05T05:25Z","v":0.307},{"t":"2015-07-05T05:37Z","v":0.328},{"t":"2015-07-05T05:50Z","v":0.338},{"t":"2015-07-05T06:02Z","v":0.453},{"t":"2015-07-05T06:15Z","v":0.473},{"t":"2015-07-05T06:27Z","v":0.442},{"t":"2015-07-05T06:37Z","v":0.359},{"t":"2015-07-05T06:47Z","v":0.255},{"t":"2015-07-05T06:57Z","v":0.276},{"t":"2015-07-05T07:07Z","v":0.349},{"t":"2015-07-05T07:17Z","v":0.255},{"t":"2015-07-05T07:27Z","v":0.235},{"t":"2015-07-05T07:37Z","v":0.235},{"t":"2015-07-05T07:47Z","v":0.224},{"t":"2015-07-05T07:57Z","v":0.235},{"t":"2015-07-05T08:07Z","v":0.214},{"t":"2015-07-05T08:17Z","v":0.193},{"t":"2015-07-05T08:27Z","v":0.214},{"t":"2015-07-05T08:37Z","v":0.152},{"t":"2015-07-05T08:47Z","v":0.131},{"t":"2015-07-05T08:57Z","v":0.120},{"t":"2015-07-05T09:07Z","v":0.110},{"t":"2015-07-05T09:16Z","v":0.131},{"t":"2015-07-05T09:26Z","v":0.152},{"t":"2015-07-05T09:36Z","v":0.338},{"t":"2015-07-05T09:46Z","v":0.380},{"t":"2015-07-05T09:56Z","v":0.712},{"t":"2015-07-05T10:06Z","v":0.754},{"t":"2015-07-05T10:16Z","v":0.826},{"t":"2015-07-05T10:26Z","v":0.816},{"t":"2015-07-05T10:36Z","v":0.826},{"t":"2015-07-05T10:46Z","v":0.816},{"t":"2015-07-05T10:56Z","v":0.338},{"t":"2015-07-05T11:06Z","v":0.328},{"t":"2015-07-05T11:16Z","v":0.328},{"t":"2015-07-05T11:26Z","v":0.307},{"t":"2015-07-05T11:36Z","v":0.276},{"t":"2015-07-05T11:46Z","v":0.255},{"t":"2015-07-05T11:56Z","v":0.255},{"t":"2015-07-05T12:06Z","v":0.235},{"t":"2015-07-05T12:16Z","v":0.203},{"t":"2015-07-05T12:26Z","v":0.193},{"t":"2015-07-05T12:36Z","v":0.214},{"t":"2015-07-05T12:46Z","v":0.203},{"t":"2015-07-05T12:56Z","v":0.224},{"t":"2015-07-05T13:06Z","v":0.183},{"t":"2015-07-05T13:15Z","v":0.224},{"t":"2015-07-05T13:25Z","v":0.442},{"t":"2015-07-05T13:35Z","v":0.473},{"t":"2015-07-05T13:45Z","v":0.505},{"t":"2015-07-05T13:55Z","v":0.556},{"t":"2015-07-05T14:05Z","v":0.525},{"t":"2015-07-05T14:15Z","v":0.556},{"t":"2015-07-05T14:25Z","v":0.515},{"t":"2015-07-05T14:35Z","v":0.556},{"t":"2015-07-05T14:45Z","v":0.525},{"t":"2015-07-05T14:55Z","v":0.546},{"t":"2015-07-05T15:05Z","v":0.484},{"t":"2015-07-05T15:15Z","v":0.401},{"t":"2015-07-05T15:25Z","v":0.328},{"t":"2015-07-05T15:35Z","v":0.338},{"t":"2015-07-05T15:45Z","v":0.359},{"t":"2015-07-05T15:55Z","v":0.276},{"t":"2015-07-05T16:05Z","v":0.297},{"t":"2015-07-05T16:15Z","v":0.328},{"t":"2015-07-05T16:25Z","v":0.380},{"t":"2015-07-05T16:35Z","v":0.463},{"t":"2015-07-05T16:45Z","v":0.421},{"t":"2015-07-05T16:55Z","v":0.390},{"t":"2015-07-05T17:05Z","v":0.318},{"t":"2015-07-05T17:15Z","v":0.380},{"t":"2015-07-05T17:24Z","v":0.401},{"t":"2015-07-05T17:34Z","v":0.421},{"t":"2015-07-05T17:44Z","v":0.276},{"t":"2015-07-05T17:54Z","v":0.193},{"t":"2015-07-05T18:04Z","v":0.224},{"t":"2015-07-05T18:14Z","v":0.276},{"t":"2015-07-05T18:24Z","v":0.255},{"t":"2015-07-05T18:34Z","v":0.235},{"t":"2015-07-05T18:44Z","v":0.266},{"t":"2015-07-05T18:54Z","v":0.224},{"t":"2015-07-05T19:04Z","v":0.255},{"t":"2015-07-05T19:14Z","v":0.276},{"t":"2015-07-05T19:24Z","v":0.100},{"t":"2015-07-05T19:34Z","v":0.172},{"t":"2015-07-05T19:44Z","v":0.235},{"t":"2015-07-05T19:54Z","v":0.255},{"t":"2015-07-05T20:04Z","v":0.297},{"t":"2015-07-05T20:14Z","v":0.359},{"t":"2015-07-05T20:24Z","v":0.421},{"t":"2015-07-05T20:34Z","v":0.442},{"t":"2015-07-05T20:44Z","v":0.432},{"t":"2015-07-05T20:54Z","v":0.432},{"t":"2015-07-05T21:04Z","v":0.442},{"t":"2015-07-05T21:14Z","v":0.484},{"t":"2015-07-05T21:24Z","v":0.525},{"t":"2015-07-05T21:33Z","v":0.608},{"t":"2015-07-05T21:43Z","v":0.619},{"t":"2015-07-05T21:53Z","v":0.608},{"t":"2015-07-05T22:03Z","v":0.588},{"t":"2015-07-05T22:13Z","v":0.536},{"t":"2015-07-05T22:23Z","v":0.484},{"t":"2015-07-05T22:33Z","v":0.421},{"t":"2015-07-05T22:43Z","v":0.359},{"t":"2015-07-05T22:53Z","v":0.318},{"t":"2015-07-05T23:03Z","v":0.235},{"t":"2015-07-05T23:13Z","v":0.183},{"t":"2015-07-05T23:23Z","v":0.183},{"t":"2015-07-05T23:33Z","v":0.235},{"t":"2015-07-05T23:43Z","v":0.318},{"t":"2015-07-05T23:53Z","v":0.442},
{"t":"2015-07-06T00:03Z","v":0.546},{"t":"2015-07-06T00:13Z","v":0.598},{"t":"2015-07-06T00:23Z","v":0.598},{"t":"2015-07-06T00:33Z","v":0.598},{"t":"2015-07-06T00:43Z","v":0.297},{"t":"2015-07-06T00:53Z","v":0.266},{"t":"2015-07-06T01:03Z","v":0.349},{"t":"2015-07-06T01:13Z","v":0.401},{"t":"2015-07-06T01:23Z","v":0.390},{"t":"2015-07-06T01:32Z","v":0.401},{"t":"2015-07-06T01:42Z","v":0.432},{"t":"2015-07-06T01:52Z","v":0.401},{"t":"2015-07-06T02:02Z","v":0.650},{"t":"2015-07-06T02:12Z","v":0.660},{"t":"2015-07-06T02:22Z","v":0.775},{"t":"2015-07-06T02:32Z","v":0.899},{"t":"2015-07-06T02:42Z","v":1.107},{"t":"2015-07-06T02:52Z","v":1.148},{"t":"2015-07-06T03:02Z","v":1.169},{"t":"2015-07-06T03:12Z","v":1.138},{"t":"2015-07-06T03:22Z","v":0.982},{"t":"2015-07-06T03:32Z","v":1.117},{"t":"2015-07-06T03:42Z","v":0.941},{"t":"2015-07-06T03:52Z","v":1.107},{"t":"2015-07-06T04:02Z","v":0.961},{"t":"2015-07-06T04:12Z","v":0.982},{"t":"2015-07-06T04:22Z","v":1.003},{"t":"2015-07-06T04:32Z","v":1.117},{"t":"2015-07-06T04:42Z","v":1.013},{"t":"2015-07-06T04:52Z","v":0.941},{"t":"2015-07-06T05:02Z","v":0.816},{"t":"2015-07-06T05:12Z","v":0.692},{"t":"2015-07-06T05:22Z","v":0.671},{"t":"2015-07-06T05:32Z","v":0.608},{"t":"2015-07-06T05:41Z","v":0.505},{"t":"2015-07-06T05:51Z","v":0.421},{"t":"2015-07-06T06:01Z","v":0.494},{"t":"2015-07-06T06:11Z","v":0.546},{"t":"2015-07-06T06:21Z","v":0.650},{"t":"2015-07-06T06:31Z","v":0.733},{"t":"2015-07-06T06:41Z","v":0.671},{"t":"2015-07-06T06:51Z","v":0.629},{"t":"2015-07-06T07:01Z","v":0.640},{"t":"2015-07-06T07:11Z","v":0.608},{"t":"2015-07-06T07:21Z","v":0.629},{"t":"2015-07-06T07:31Z","v":0.536},{"t":"2015-07-06T07:41Z","v":0.484},{"t":"2015-07-06T07:51Z","v":0.588},{"t":"2015-07-06T08:01Z","v":0.754},{"t":"2015-07-06T08:11Z","v":0.608}
 ]
},
"concat": [
 {
  "width": 437, "height": 207,
  "title": {"text": ["AR:12017", "2014-03-22 - 2014-03-28"]},
  "encoding": {"x": {"field": "t", "type": "temporal", "scale": {"type": "utc", "domain": [1395478140000, 1396037400000]}, "axis": {"title": null, "labels": false, "values": [1395482400000,1395489600000,1395496800000,1395504000000,1395511200000,1395518400000,1395525600000,1395532800000,1395540000000,1395547200000,1395554400000,1395561600000,1395568800000,1395576000000,1395583200000,1395590400000,1395597600000,1395604800000,1395612000000,1395619200000,1395626400000,1395633600000,1395640800000,1395648000000,1395655200000,1395662400000,1395669600000,1395676800000,1395684000000,1395691200000,1395698400000,1395705600000,1395712800000,1395720000000,1395727200000,1395734400000,1395741600000,1395748800000,1395756000000,1395763200000,1395770400000,1395777600000,1395784800000,1395792000000,1395799200000,1395806400000,1395813600000,1395820800000,1395828000000,1395835200000,1395842400000,1395849600000,1395856800000,1395864000000,1395871200000,1395878400000,1395885600000,1395892800000,1395900000000,1395907200000,1395914400000,1395921600000,1395928800000,1395936000000,1395943200000,1395950400000,1395957600000,1395964800000,1395972000000,1395979200000,1395986400000,1395993600000,1396000800000,1396008000000,1396015200000,1396022400000,1396029600000,1396036800000], "tickSize": 3}}},
  "layer": [
   {"layer": [
    {"data": {"name": "predL"}, "mark": {"type": "line", "color": "#d62728", "strokeWidth": 1.6}, "encoding": {"y": {"field": "s", "type": "quantitative", "scale": {"domain": [0, 1], "nice": false, "zero": false}, "axis": {"orient": "left", "title": "prediction score", "values": [0, 0.2, 0.4, 0.6, 0.8, 1.0], "format": ".1f", "labelColor": "#d62728", "titleColor": "#d62728", "tickSize": 4.7, "labelPadding": 4, "titlePadding": 1}}}},
    {"data": {"name": "ptsL"}, "mark": {"type": "circle", "color": "black", "size": 45, "opacity": 1}, "encoding": {"y": {"field": "s", "type": "quantitative", "scale": {"domain": [0, 1], "nice": false, "zero": false}, "axis": {"orient": "left", "title": "prediction score", "values": [0, 0.2, 0.4, 0.6, 0.8, 1.0], "format": ".1f", "labelColor": "#d62728", "titleColor": "#d62728", "tickSize": 4.7, "labelPadding": 4, "titlePadding": 1}}}}
   ]},
   {"layer": [
    {"data": {"name": "totpotL"}, "mark": {"type": "line", "color": "#1f77b4", "strokeWidth": 1.6}, "encoding": {"y": {"field": "v", "type": "quantitative", "scale": {"domain": [-0.3375, 7.0875], "nice": false, "zero": false}, "axis": {"orient": "right", "title": "DTW_TOTPOT_D", "values": [0, 2, 4, 6], "format": "d", "labelColor": "#1f77b4", "titleColor": "#1f77b4", "tickSize": 4.7, "labelPadding": 4, "titlePadding": 9, "titleAngle": 270, "titleBaseline": "top"}}}},
    {"data": {"name": "totpotL"}, "transform": [{"filter": "datum.v == 4.51 && datum.t > 1396000000000"}], "mark": {"type": "text", "text": "1e21", "color": "#1f77b4", "fontSize": 10.5, "align": "right", "baseline": "bottom", "dx": 4, "dy": -1}, "encoding": {"y": {"datum": 7.0875, "type": "quantitative", "scale": {"domain": [-0.3375, 7.0875], "nice": false, "zero": false}}}}
   ]}
  ],
  "resolve": {"scale": {"y": "independent"}}
 },
 {
  "width": 437, "height": 207,
  "title": {"text": ["AR:12381", "2015-07-04 - 2015-07-06"]},
  "encoding": {"x": {"field": "t", "type": "temporal", "scale": {"type": "utc", "domain": [1435978440000, 1436174280000]}, "axis": {"title": null, "labels": false, "values": [1435978800000,1435982400000,1435986000000,1435989600000,1435993200000,1435996800000,1436000400000,1436004000000,1436007600000,1436011200000,1436014800000,1436018400000,1436022000000,1436025600000,1436029200000,1436032800000,1436036400000,1436040000000,1436043600000,1436047200000,1436050800000,1436054400000,1436058000000,1436061600000,1436065200000,1436068800000,1436072400000,1436076000000,1436079600000,1436083200000,1436086800000,1436090400000,1436094000000,1436097600000,1436101200000,1436104800000,1436108400000,1436112000000,1436115600000,1436119200000,1436122800000,1436126400000,1436130000000,1436133600000,1436137200000,1436140800000,1436144400000,1436148000000,1436151600000,1436155200000,1436158800000,1436162400000,1436166000000,1436169600000,1436173200000], "tickSize": 3}}},
  "layer": [
   {"layer": [
    {"data": {"name": "predR"}, "mark": {"type": "line", "color": "#d62728", "strokeWidth": 1.6}, "encoding": {"y": {"field": "s", "type": "quantitative", "scale": {"domain": [0, 1], "nice": false, "zero": false}, "axis": {"orient": "left", "title": "prediction score", "values": [0, 0.2, 0.4, 0.6, 0.8, 1.0], "format": ".1f", "labelColor": "#d62728", "titleColor": "#d62728", "tickSize": 4.7, "labelPadding": 4, "titlePadding": 1}}}},
    {"data": {"name": "ptsR"}, "mark": {"type": "circle", "color": "black", "size": 45, "opacity": 1}, "encoding": {"y": {"field": "s", "type": "quantitative", "scale": {"domain": [0, 1], "nice": false, "zero": false}, "axis": {"orient": "left", "title": "prediction score", "values": [0, 0.2, 0.4, 0.6, 0.8, 1.0], "format": ".1f", "labelColor": "#d62728", "titleColor": "#d62728", "tickSize": 4.7, "labelPadding": 4, "titlePadding": 1}}}}
   ]},
   {"layer": [
    {"data": {"name": "totpotR"}, "mark": {"type": "line", "color": "#1f77b4", "strokeWidth": 1.6}, "encoding": {"y": {"field": "v", "type": "quantitative", "scale": {"domain": [-0.0827, 1.736], "nice": false, "zero": false}, "axis": {"orient": "right", "title": "DTW_TOTPOT_D", "values": [0, 0.5, 1.0, 1.5], "format": ".1f", "labelColor": "#1f77b4", "titleColor": "#1f77b4", "tickSize": 4.7, "labelPadding": 4, "titlePadding": -1, "titleAngle": 270, "titleBaseline": "top"}}}},
    {"data": {"name": "totpotR"}, "transform": [{"filter": "datum.v == 1.652"}], "mark": {"type": "text", "text": "1e21", "color": "#1f77b4", "fontSize": 10.5, "align": "right", "baseline": "bottom", "dx": 5, "dy": -1}, "encoding": {"y": {"datum": 1.736, "type": "quantitative", "scale": {"domain": [-0.0827, 1.736], "nice": false, "zero": false}}}}
   ]}
  ],
  "resolve": {"scale": {"y": "independent"}}
 },
 {
  "width": 437, "height": 207,
  "encoding": {"x": {"field": "t", "type": "temporal", "scale": {"type": "utc", "domain": [1395478140000, 1396037400000]}, "axis": {"title": null, "values": [1395482400000,1395489600000,1395496800000,1395504000000,1395511200000,1395518400000,1395525600000,1395532800000,1395540000000,1395547200000,1395554400000,1395561600000,1395568800000,1395576000000,1395583200000,1395590400000,1395597600000,1395604800000,1395612000000,1395619200000,1395626400000,1395633600000,1395640800000,1395648000000,1395655200000,1395662400000,1395669600000,1395676800000,1395684000000,1395691200000,1395698400000,1395705600000,1395712800000,1395720000000,1395727200000,1395734400000,1395741600000,1395748800000,1395756000000,1395763200000,1395770400000,1395777600000,1395784800000,1395792000000,1395799200000,1395806400000,1395813600000,1395820800000,1395828000000,1395835200000,1395842400000,1395849600000,1395856800000,1395864000000,1395871200000,1395878400000,1395885600000,1395892800000,1395900000000,1395907200000,1395914400000,1395921600000,1395928800000,1395936000000,1395943200000,1395950400000,1395957600000,1395964800000,1395972000000,1395979200000,1395986400000,1395993600000,1396000800000,1396008000000,1396015200000,1396022400000,1396029600000,1396036800000], "labelExpr": "datum.value % 86400000 == 0 ? utcFormat(datum.value, '%Y-%m-%d') : ''", "labelAngle": -30, "labelAlign": "right", "labelBaseline": "top", "labelOverlap": false, "labelColor": "black", "labelPadding": 2, "tickSize": 3}}},
  "layer": [
   {"layer": [
    {"data": {"name": "predL"}, "mark": {"type": "line", "color": "#d62728", "strokeWidth": 1.6}, "encoding": {"y": {"field": "s", "type": "quantitative", "scale": {"domain": [0, 1], "nice": false, "zero": false}, "axis": {"orient": "left", "title": "prediction score", "values": [0, 0.2, 0.4, 0.6, 0.8, 1.0], "format": ".1f", "labelColor": "#d62728", "titleColor": "#d62728", "tickSize": 4.7, "labelPadding": 4, "titlePadding": 1}}}},
    {"data": {"name": "ptsL"}, "mark": {"type": "circle", "color": "black", "size": 45, "opacity": 1}, "encoding": {"y": {"field": "s", "type": "quantitative", "scale": {"domain": [0, 1], "nice": false, "zero": false}, "axis": {"orient": "left", "title": "prediction score", "values": [0, 0.2, 0.4, 0.6, 0.8, 1.0], "format": ".1f", "labelColor": "#d62728", "titleColor": "#d62728", "tickSize": 4.7, "labelPadding": 4, "titlePadding": 1}}}}
   ]},
   {"data": {"name": "meanshrL"}, "mark": {"type": "line", "color": "#1f77b4", "strokeWidth": 1.6}, "encoding": {"y": {"field": "v", "type": "quantitative", "scale": {"domain": [-0.051, 1.043], "nice": false, "zero": false}, "axis": {"orient": "right", "title": "DTW_MEANSHR_D", "values": [0, 0.2, 0.4, 0.6, 0.8, 1.0], "format": ".1f", "labelColor": "#1f77b4", "titleColor": "#1f77b4", "tickSize": 4.7, "labelPadding": 4, "titlePadding": 0, "titleAngle": 270, "titleBaseline": "top"}}}}
  ],
  "resolve": {"scale": {"y": "independent"}}
 },
 {
  "width": 437, "height": 207,
  "encoding": {"x": {"field": "t", "type": "temporal", "scale": {"type": "utc", "domain": [1435978440000, 1436174280000]}, "axis": {"title": null, "values": [1435978800000,1435982400000,1435986000000,1435989600000,1435993200000,1435996800000,1436000400000,1436004000000,1436007600000,1436011200000,1436014800000,1436018400000,1436022000000,1436025600000,1436029200000,1436032800000,1436036400000,1436040000000,1436043600000,1436047200000,1436050800000,1436054400000,1436058000000,1436061600000,1436065200000,1436068800000,1436072400000,1436076000000,1436079600000,1436083200000,1436086800000,1436090400000,1436094000000,1436097600000,1436101200000,1436104800000,1436108400000,1436112000000,1436115600000,1436119200000,1436122800000,1436126400000,1436130000000,1436133600000,1436137200000,1436140800000,1436144400000,1436148000000,1436151600000,1436155200000,1436158800000,1436162400000,1436166000000,1436169600000,1436173200000], "labelExpr": "datum.value % 86400000 == 0 ? utcFormat(datum.value, '%Y-%m-%d') : ''", "labelAngle": -30, "labelAlign": "right", "labelBaseline": "top", "labelOverlap": false, "labelColor": "black", "labelPadding": 2, "tickSize": 3}}},
  "layer": [
   {"layer": [
    {"data": {"name": "predR"}, "mark": {"type": "line", "color": "#d62728", "strokeWidth": 1.6}, "encoding": {"y": {"field": "s", "type": "quantitative", "scale": {"domain": [0, 1], "nice": false, "zero": false}, "axis": {"orient": "left", "title": "prediction score", "values": [0, 0.2, 0.4, 0.6, 0.8, 1.0], "format": ".1f", "labelColor": "#d62728", "titleColor": "#d62728", "tickSize": 4.7, "labelPadding": 4, "titlePadding": 1}}}},
    {"data": {"name": "ptsR"}, "mark": {"type": "circle", "color": "black", "size": 45, "opacity": 1}, "encoding": {"y": {"field": "s", "type": "quantitative", "scale": {"domain": [0, 1], "nice": false, "zero": false}, "axis": {"orient": "left", "title": "prediction score", "values": [0, 0.2, 0.4, 0.6, 0.8, 1.0], "format": ".1f", "labelColor": "#d62728", "titleColor": "#d62728", "tickSize": 4.7, "labelPadding": 4, "titlePadding": 1}}}}
   ]},
   {"data": {"name": "meanshrR"}, "mark": {"type": "line", "color": "#1f77b4", "strokeWidth": 1.6}, "encoding": {"y": {"field": "v", "type": "quantitative", "scale": {"domain": [-0.0604, 1.229], "nice": false, "zero": false}, "axis": {"orient": "right", "title": "DTW_MEANSHR_D", "values": [0, 0.2, 0.4, 0.6, 0.8, 1.0, 1.2], "format": ".1f", "labelColor": "#1f77b4", "titleColor": "#1f77b4", "tickSize": 4.7, "labelPadding": 4, "titlePadding": -1, "titleAngle": 270, "titleBaseline": "top"}}}}
  ],
  "resolve": {"scale": {"y": "independent"}}
 }
],
"columns": 2,
"spacing": {"row": 42, "column": 165},
"bounds": "flush"
}
